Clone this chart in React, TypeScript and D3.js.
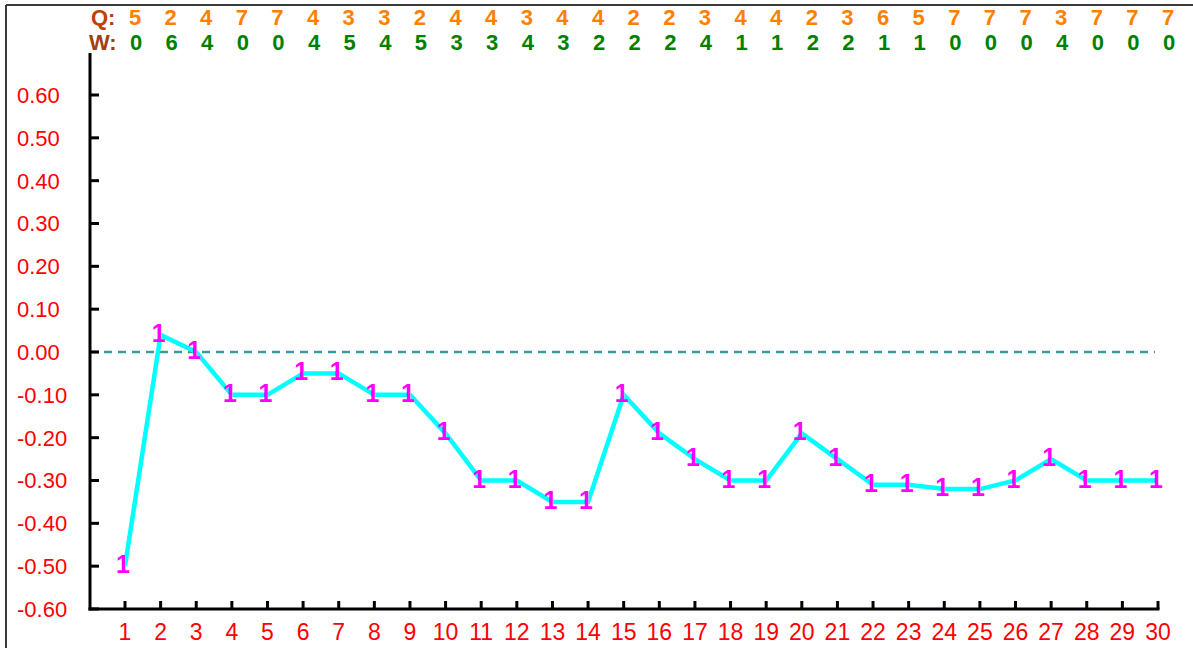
import React from "react";
import * as d3 from "d3";

const categories = d3.range(1, 31);
const values = [-0.5, 0.04, 0.0, -0.1, -0.1, -0.05, -0.05, -0.1, -0.1, -0.19, -0.3, -0.3, -0.35, -0.35, -0.1, -0.19, -0.25, -0.3, -0.3, -0.19, -0.25, -0.31, -0.31, -0.32, -0.32, -0.3, -0.25, -0.3, -0.3, -0.3];
const qValues = [5, 2, 4, 7, 7, 4, 3, 3, 2, 4, 4, 3, 4, 4, 2, 2, 3, 4, 4, 2, 3, 6, 5, 7, 7, 7, 3, 7, 7, 7];
const wValues = [0, 6, 4, 0, 0, 4, 5, 4, 5, 3, 3, 4, 3, 2, 2, 2, 4, 1, 1, 2, 2, 1, 1, 0, 0, 0, 4, 0, 0, 0];
const yTicks = [0.6, 0.5, 0.4, 0.3, 0.2, 0.1, 0, -0.1, -0.2, -0.3, -0.4, -0.5, -0.6];
const markerLabel = "1";

export default function App() {
  const W = 1193, H = 648;
  const x = d3.scaleLinear().domain([1, 30]).range([125, 1158]);
  const y = d3.scaleLinear().domain([-0.6, 0.6]).range([609, 95]);
  const axisX = 90;
  const axisY = y(-0.6);
  const line = d3.line<number>().x((_, i) => x(categories[i])).y((d) => y(d));
  const font = "'Liberation Sans', Arial, sans-serif";

  return (
    <svg width={W} height={H} style={{ position: "absolute", left: 0, top: 0, background: "#fff" }} fontFamily={font}>
      <rect x={0} y={0} width={W} height={H} fill="#fff" />
      {/* frame */}
      <line x1={6} y1={5} x2={W} y2={5} stroke="#3a3a3a" strokeWidth={2} />
      <line x1={6} y1={5} x2={6} y2={H} stroke="#3a3a3a" strokeWidth={2} />

      {/* header rows */}
      <text x={91} y={25} fontSize={22} fontWeight="bold" fill="#C04000">Q:</text>
      <text x={89} y={50} fontSize={22} fontWeight="bold" fill="#A04010">W:</text>
      {qValues.map((q, i) => (
        <text key={"q" + i} x={x(categories[i]) + 10} y={25} fontSize={22} fontWeight="bold" fill="#FF8000" textAnchor="middle">{q}</text>
      ))}
      {wValues.map((w, i) => (
        <text key={"w" + i} x={x(categories[i]) + 11} y={50} fontSize={22} fontWeight="bold" fill="#008000" textAnchor="middle">{w}</text>
      ))}

      {/* zero line */}
      <line x1={axisX} y1={y(0)} x2={1155} y2={y(0)} stroke="#3a9a9a" strokeWidth={2.5} strokeDasharray="8 6" />

      {/* y axis */}
      <line x1={axisX} y1={53} x2={axisX} y2={axisY + 1.5} stroke="#000" strokeWidth={3} />
      {yTicks.map((t) => (
        <g key={"yt" + t}>
          <line x1={axisX} y1={y(t)} x2={axisX + 9} y2={y(t)} stroke="#000" strokeWidth={3} />
          <text x={17} y={y(t)} dy="0.36em" fontSize={22} fill="#FF0000">{t.toFixed(2)}</text>
        </g>
      ))}

      {/* x axis */}
      <line x1={axisX - 1.5} y1={axisY} x2={x(30) + 1.5} y2={axisY} stroke="#000" strokeWidth={3} />
      {categories.map((c) => (
        <g key={"xt" + c}>
          <line x1={x(c)} y1={axisY} x2={x(c)} y2={axisY - 8} stroke="#000" strokeWidth={3} />
          <text x={x(c)} y={640} fontSize={23} fill="#FF0000" textAnchor="middle">{c}</text>
        </g>
      ))}

      {/* series */}
      <path d={line(values) || ""} fill="none" stroke="#00FFFF" strokeWidth={4.5} strokeLinejoin="miter" />
      {values.map((v, i) => (
        <text key={"m" + i} x={x(categories[i]) - 2} y={y(v) + 7} fontSize={25} fontWeight="bold" fill="#FF00FF" textAnchor="middle">{markerLabel}</text>
      ))}
    </svg>
  );
}
